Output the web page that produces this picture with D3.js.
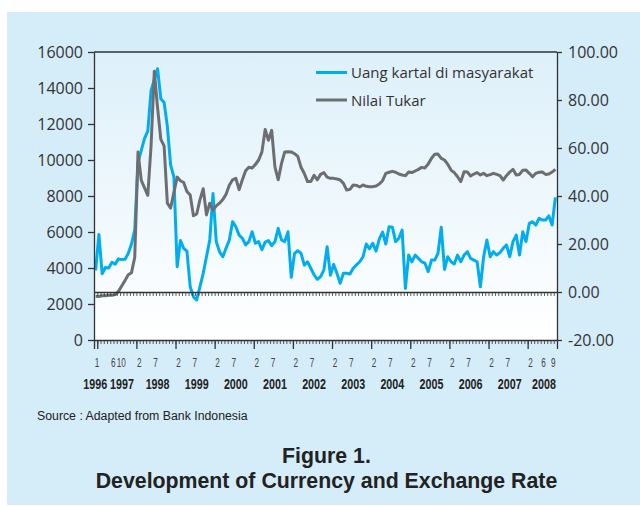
<!DOCTYPE html>
<html>
<head>
<meta charset="utf-8">
<script src="https://cdn.jsdelivr.net/npm/d3@7"></script>
<style>
  body { margin: 0; background: #fff; }
  svg { display: block; }
</style>
</head>
<body>
<svg id="chart" width="640" height="506"></svg>
<script>
// monthly points, index 0 = Dec 1996 ... index 141 = Sep 2008
const nilaiTukar = [
  2425, 2420, 2460, 2460, 2480, 2480, 2520, 2700, 3000, 3300, 3630, 3740, 4600,
  10440, 8870, 8450, 8040, 10800, 14930, 12900, 11150, 10780, 7600, 7330, 8200,
  9050, 8850, 8750, 8250, 8050, 6900, 7000, 7800, 8400, 6950, 7600, 7220,
  7450, 7600, 7800, 8100, 8600, 8900, 8980, 8350, 8900, 9400, 9600, 9550,
  9750, 10000, 10450, 11700, 11100, 11650, 9600, 8900, 9800, 10450, 10460, 10450,
  10350, 10200, 9600, 9250, 8800, 8800, 9150, 8900, 9200, 9300, 9050, 8980,
  8980, 8950, 8890, 8700, 8330, 8370, 8610, 8590, 8500, 8610, 8540, 8520,
  8520, 8560, 8670, 8850, 9260, 9320, 9370, 9320, 9220, 9170, 9130, 9330,
  9300, 9390, 9480, 9590, 9560, 9780, 10090, 10320, 10330, 10090, 10000, 9760,
  9440, 9300, 9070, 8800, 9350, 9330, 9110, 9220, 9300, 9170, 9260, 9130,
  9190, 9260, 9200, 9130, 8890, 9130, 9330, 9480, 9170, 9200, 9430, 9440,
  9260, 9070, 9260, 9320, 9330, 9200, 9220, 9330, 9480
];
const uangKartal = [
  9, 24, 7.6, 10.2, 10, 12.4, 11.6, 13.8, 13.5, 13.6, 16, 20, 26,
  54, 59, 64, 67, 84, 88.5, 93, 80.5, 79, 69, 53, 48,
  10.5, 21.5, 18.2, 17, 2.2, -2, -3.3, 2.2, 7.8, 14.7, 21.7, 41,
  21, 16.8, 14.7, 18.2, 21.7, 29.3, 27.2, 23.7, 22.4, 19.6, 21, 25.1,
  20.3, 21, 17.6, 20.8, 21.4, 19.3, 21, 26.5, 21.7, 21, 25.1, 6.1,
  16.1, 17.2, 16.1, 11.2, 12.6, 9.9, 7.1, 5.3, 6.4, 9.2, 18.9, 7,
  11.5, 7.8, 3.6, 7.8, 7.8, 7.5, 9.9, 11.3, 12.6, 14.7, 20, 18,
  20.3, 17, 22, 25, 20, 27.2, 27, 21, 22.4, 25.8, 1.5, 15.4,
  12.6, 15.4, 14, 12.6, 12, 8.5, 13.3, 13.3, 16.1, 27, 9.4, 14.7,
  12.6, 11.7, 15.4, 12.6, 15.4, 16.8, 14, 13.3, 12.6, 2.2, 14.7, 21.7,
  14.7, 16.8, 15.4, 16.4, 18.2, 19.6, 14.7, 21, 23.7, 15.4, 25.1, 21,
  28.6, 29.3, 27.9, 30.7, 30, 30, 31.7, 27.9, 39.4
];

const yearLabels = ["1996", "1997", "1998", "1999", "2000", "2001", "2002", "2003", "2004", "2005", "2006", "2007", "2008"];
const yearLabelAt = [-0.1, 8.1, 19, 31, 43, 55, 67, 79, 91, 103, 115, 127, 137.5];
const monthLabels = ["1", "6", "10",
  "2", "7", "2", "7", "2", "7", "2", "7", "2", "7", "2", "7", "2", "7", "2", "7", "2", "7", "2", "7",
  "2", "6", "9"];
const monthLabelAt = [1, 6, 8.5,
  14, 19, 26, 31, 38, 43, 50, 55, 62, 67, 74, 79, 86, 91, 98, 103, 110, 115, 122, 127,
  134, 138, 141];
const yearStarts = [0.5, 12.5, 24.5, 36.5, 48.5, 60.5, 72.5, 84.5, 96.5, 108.5, 120.5, 132.5];
const leftTicks = [0, 2000, 4000, 6000, 8000, 10000, 12000, 14000, 16000];
const rightTicks = [-20, 0, 20, 40, 60, 80, 100];

const seriesNames = ["Uang kartal di masyarakat", "Nilai Tukar"];
const seriesColors = ["#00aeef", "#6d6e71"];

const svg = d3.select("#chart");
const plotL = 94, plotR = 557, plotT = 52, plotB = 340;
const sans = "'Open Sans', 'Noto Sans', sans-serif";
const arial = "'Liberation Sans', Arial, sans-serif";

const x = d3.scaleLinear().domain([-0.5, nilaiTukar.length - 0.5]).range([plotL, plotR]);
const yL = d3.scaleLinear().domain([0, 16000]).range([plotB, plotT]);
const yR = d3.scaleLinear().domain([-20, 100]).range([plotB, plotT]);

// background panel
svg.append("rect").attr("x", 7).attr("y", 12).attr("width", 633).attr("height", 493).attr("fill", "#d5ecf9");

const grad = svg.append("defs").append("linearGradient")
  .attr("id", "plotbg").attr("x1", 0).attr("y1", 0).attr("x2", 0).attr("y2", 1);
grad.append("stop").attr("offset", "0%").attr("stop-color", "#ddf0fa");
grad.append("stop").attr("offset", "100%").attr("stop-color", "#ffffff");

svg.append("rect").attr("x", plotL).attr("y", plotT)
  .attr("width", plotR - plotL).attr("height", plotB - plotT)
  .attr("fill", "url(#plotbg)");

// lines
const idx = d3.range(nilaiTukar.length);
const lineR = d3.line().x(i => x(i)).y(i => yR(uangKartal[i]));
const lineL = d3.line().x(i => x(i)).y(i => yL(nilaiTukar[i]));

svg.append("path").datum(idx).attr("d", lineR)
  .attr("fill", "none").attr("stroke", seriesColors[0]).attr("stroke-width", 3).attr("stroke-linejoin", "round");
svg.append("path").datum(idx).attr("d", lineL)
  .attr("fill", "none").attr("stroke", seriesColors[1]).attr("stroke-width", 3).attr("stroke-linejoin", "round");

// frame
svg.append("line").attr("x1", plotL).attr("x2", plotR).attr("y1", plotT).attr("y2", plotT)
  .attr("stroke", "#333").attr("stroke-width", 1.5);

const styleAxis = g => {
  g.selectAll("path, line").attr("stroke", "#333").attr("stroke-width", 1.3);
  g.selectAll("text").attr("fill", "#333");
};

svg.append("g").attr("transform", `translate(${plotL},0)`)
  .call(d3.axisLeft(yL).tickValues(leftTicks).tickFormat(d => String(d)).tickSize(6).tickPadding(5).tickSizeOuter(0))
  .call(styleAxis)
  .call(g => g.selectAll("text").attr("font-family", sans).attr("font-size", 16));

svg.append("g").attr("transform", `translate(${plotR},0)`)
  .call(d3.axisRight(yR).tickValues(rightTicks).tickFormat(d => d.toFixed(2)).tickSize(5).tickPadding(6).tickSizeOuter(0))
  .call(styleAxis)
  .call(g => g.selectAll("text").attr("font-family", sans).attr("font-size", 16));

// month ticks along zero line and bottom
const minor = d3.range(-0.5, nilaiTukar.length, 1);
[yR(0), plotB].forEach(yy => {
  svg.append("g").attr("transform", `translate(0,${yy})`)
    .call(d3.axisBottom(x).tickValues(minor).tickSize(4).tickFormat("").tickSizeOuter(0))
    .call(styleAxis)
    .call(g => g.selectAll(".tick line").attr("stroke-width", 0.8));
});

svg.append("g").attr("transform", `translate(0,${plotB})`)
  .call(d3.axisBottom(x).tickValues([-0.5].concat(yearStarts, [nilaiTukar.length - 0.5])).tickSize(9).tickFormat("").tickSizeOuter(0))
  .call(styleAxis)
  .call(g => g.select(".domain").remove());

// month labels (narrow digits, squeezed horizontally)
svg.append("g").selectAll("text").data(monthLabels).join("text")
  .attr("transform", (d, i) => `translate(${x(monthLabelAt[i]) - 2},367) scale(0.68,1)`)
  .attr("text-anchor", "middle")
  .attr("font-family", arial).attr("font-size", 12).attr("fill", "#444")
  .text(d => d);

// year labels (condensed bold)
svg.append("g").selectAll("text").data(yearLabels).join("text")
  .attr("transform", (d, i) => `translate(${x(yearLabelAt[i])},388.5) scale(0.74,1)`)
  .attr("text-anchor", "middle")
  .attr("font-family", arial).attr("font-weight", "bold").attr("font-size", 14.5).attr("fill", "#222")
  .text(d => d);

// legend
const legend = svg.append("g");
seriesNames.forEach((name, i) => {
  const ly = 72.5 + i * 27.5;
  legend.append("line").attr("x1", 316).attr("x2", 347).attr("y1", ly).attr("y2", ly)
    .attr("stroke", seriesColors[i]).attr("stroke-width", 3);
  legend.append("text").attr("x", 351).attr("y", ly + 5.5)
    .attr("font-family", sans).attr("font-size", 15).attr("fill", "#333")
    .text(name);
});

// source and title
svg.append("text").attr("x", 37).attr("y", 419.5)
  .attr("font-family", arial).attr("font-size", 12.3).attr("fill", "#222")
  .text("Source : Adapted from Bank Indonesia");

svg.append("text").attr("x", 326.5).attr("y", 463).attr("text-anchor", "middle")
  .attr("font-family", arial).attr("font-weight", "bold").attr("font-size", 21.3).attr("fill", "#222")
  .text("Figure 1.");
svg.append("text").attr("x", 326.5).attr("y", 487.5).attr("text-anchor", "middle")
  .attr("font-family", arial).attr("font-weight", "bold").attr("font-size", 21.3).attr("fill", "#222")
  .text("Development of Currency and Exchange Rate");
</script>
</body>
</html>
